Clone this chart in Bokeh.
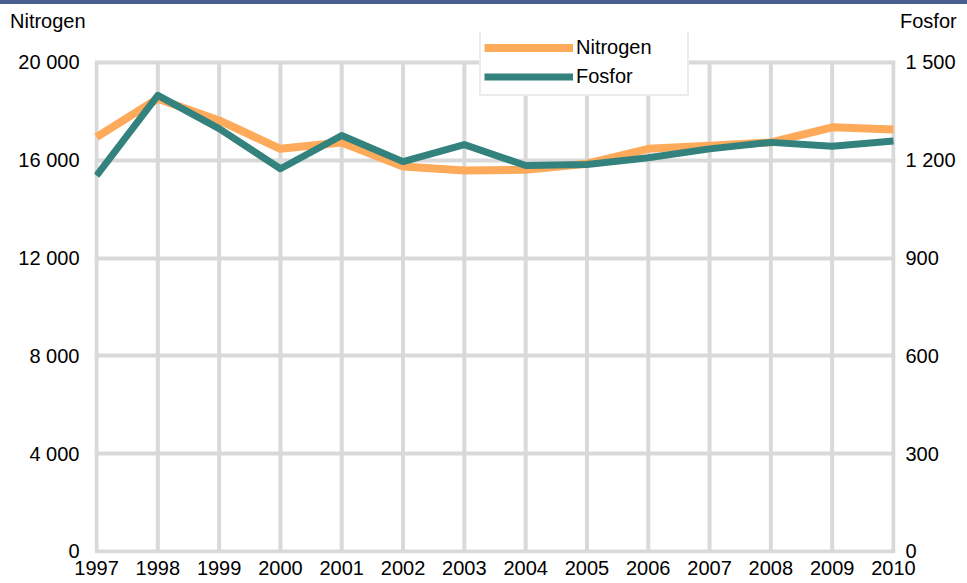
from bokeh.plotting import figure
from bokeh.models import Range1d, LinearAxis, FixedTicker, Legend, LegendItem, Div
from bokeh.layouts import column
from bokeh.embed import file_html
from bokeh.resources import INLINE

years = list(range(1997, 2011))
nitrogen = [16950, 18520, 17630, 16470, 16730, 15750, 15580, 15610, 15860, 16470, 16600, 16730, 17350, 17260]
fosfor = [1153, 1399, 1297, 1174, 1276, 1196, 1248, 1184, 1187, 1208, 1235, 1255, 1243, 1259]
left_ticks = [0, 4000, 8000, 12000, 16000, 20000]
left_labels = ["0", "4 000", "8 000", "12 000", "16 000", "20 000"]
right_ticks = [0, 300, 600, 900, 1200, 1500]
right_labels = ["0", "300", "600", "900", "1 200", "1 500"]
year_labels = [str(y) for y in years]
left_title = "Nitrogen"
right_title = "Fosfor"

FONT = "Liberation Sans"
GRID = "#D9D9D9"
ORANGE = "#FDAA5B"
TEAL = "#33827E"
FS = "20px"

y_top = 21227
y_bot = -82
ratio = right_ticks[-1] / left_ticks[-1]

p = figure(width=967, height=551, output_backend="svg", toolbar_location=None,
           x_range=Range1d(1996.967, 2010.033), y_range=Range1d(y_bot, y_top),
           min_border_left=94, min_border_right=72, min_border_top=0, min_border_bottom=30)
p.extra_y_ranges = {"fosfor": Range1d(y_bot * ratio, y_top * ratio)}
p.outline_line_color = None
p.background_fill_color = "white"
p.border_fill_color = "white"

# axes
p.xaxis.ticker = FixedTicker(ticks=years)
p.xaxis.major_label_overrides = {y: l for y, l in zip(years, year_labels)}
p.yaxis.ticker = FixedTicker(ticks=left_ticks)
p.yaxis.major_label_overrides = {t: l for t, l in zip(left_ticks, left_labels)}
raxis = LinearAxis(y_range_name="fosfor", ticker=FixedTicker(ticks=right_ticks),
                   major_label_overrides={t: l for t, l in zip(right_ticks, right_labels)})
p.add_layout(raxis, "right")
for ax in [p.xaxis[0], p.yaxis[0], raxis]:
    ax.axis_line_color = None
    ax.major_tick_line_color = None
    ax.minor_tick_line_color = None
    ax.major_tick_in = 0
    ax.major_tick_out = 0
    ax.major_label_text_font = FONT
    ax.major_label_text_font_size = FS
    ax.major_label_text_color = "black"
p.xaxis.major_label_standoff = 7
p.yaxis[0].major_label_standoff = 15
raxis.major_label_standoff = 10

# grids
p.xgrid.grid_line_color = None
p.ygrid.ticker = FixedTicker(ticks=left_ticks)
p.ygrid.grid_line_color = GRID
p.ygrid.grid_line_width = 4
p.segment(x0=years, y0=[left_ticks[0]] * len(years), x1=years, y1=[left_ticks[-1]] * len(years),
          line_color=GRID, line_width=4)

r1 = p.line(years, nitrogen, line_color=ORANGE, line_width=8, line_join="round")
r2 = p.line(years, fosfor, y_range_name="fosfor", line_color=TEAL, line_width=7, line_join="round")

legend = Legend(items=[LegendItem(label="Nitrogen", renderers=[r1]),
                       LegendItem(label="Fosfor", renderers=[r2])],
                location=(385, 457), padding=3, spacing=0,
                glyph_width=89, glyph_height=29, label_height=29, label_width=108,
                label_standoff=3, label_text_font=FONT, label_text_font_size=FS,
                label_text_color="black",
                border_line_color=GRID, border_line_width=2, background_fill_alpha=1)
p.add_layout(legend, "center")

bar = Div(text="", width=967, height=4, styles={"background-color": "#4A5D8F"}, margin=0)
titles = Div(text=(
    '<div style="position:relative;width:967px;height:28px;font-family:\'Liberation Sans\';'
    'font-size:20px;line-height:22px;color:black;">'
    f'<span style="position:absolute;left:10px;top:6px;">{left_title}</span>'
    f'<span style="position:absolute;left:900px;top:6px;">{right_title}</span></div>'),
    width=967, height=28, margin=0)
layout = column(bar, titles, p, spacing=0)

open("out.html", "w").write(file_html(layout, INLINE))
